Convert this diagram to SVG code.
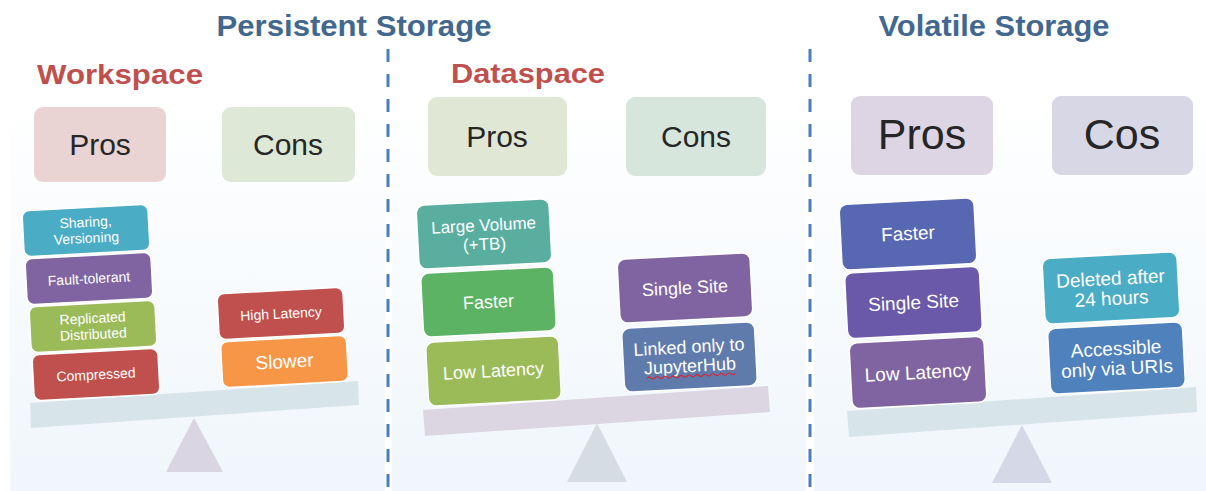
<svg xmlns="http://www.w3.org/2000/svg" width="1206" height="491" viewBox="0 0 1206 491">
<defs>
<linearGradient id="bg" x1="0" y1="0" x2="0" y2="1">
<stop offset="0" stop-color="#ffffff"/>
<stop offset="1" stop-color="#f0f6fb"/>
</linearGradient>
</defs>
<style>
.title{font-family:"Liberation Sans",Arial,sans-serif;font-weight:bold;font-size:29px;fill:#42688f}
.sub{font-family:"Liberation Sans",Arial,sans-serif;font-weight:bold;font-size:28px;fill:#c0504d}
.hdr{font-family:"Liberation Sans",Arial,sans-serif;fill:#262626;text-anchor:middle}
.bt{font-family:"Liberation Sans",Arial,sans-serif;fill:#ffffff;text-anchor:middle}
.box{stroke:#ffffff;stroke-width:1.5}
.div{stroke:#4a7cc1;stroke-width:3;stroke-dasharray:13 12;fill:none}
</style>
<rect x="0" y="0" width="1206" height="491" fill="#ffffff"/>
<rect x="10" y="92" width="375" height="399" fill="url(#bg)"/>
<rect x="392" y="92" width="414" height="399" fill="url(#bg)"/>
<rect x="814" y="92" width="392" height="399" fill="url(#bg)"/>

<g id="titles">
<text class="title" x="354" y="36" text-anchor="middle" textLength="275" lengthAdjust="spacingAndGlyphs">Persistent Storage</text>
<text class="title" x="994" y="36" text-anchor="middle" textLength="231" lengthAdjust="spacingAndGlyphs">Volatile Storage</text>
<text class="sub" x="37" y="84" textLength="166" lengthAdjust="spacingAndGlyphs">Workspace</text>
<text class="sub" x="451" y="83" textLength="154" lengthAdjust="spacingAndGlyphs">Dataspace</text>
</g>

<g id="connectors">
<line class="div" x1="388" y1="49" x2="388" y2="491"/>
<line class="div" x1="810" y1="49" x2="810" y2="491"/>
</g>

<!-- Panel 1: Workspace -->
<g id="ws-pros-header">
<rect x="34" y="107" width="132" height="75" rx="9" fill="#e9d3d3"/>
<text class="hdr" x="100" y="155" font-size="30">Pros</text>
</g>
<g id="ws-cons-header">
<rect x="222" y="107" width="133" height="75" rx="9" fill="#dee8d6"/>
<text class="hdr" x="288" y="155" font-size="30">Cons</text>
</g>
<g id="ws-scale">
<polygon points="30,403 358,381 359,405 31,428" fill="#d7e4ea"/>
<polygon points="194,418 223,472 166,472" fill="#d9d5e3"/>
</g>
<g id="ws-sharing" transform="rotate(-3 86 230.5)">
<rect class="box" x="23" y="207.5" width="126" height="46" rx="7" fill="#4bacc6"/>
<text class="bt" x="86" y="227" font-size="14">Sharing,</text>
<text class="bt" x="86" y="243" font-size="14">Versioning</text>
</g>
<g id="ws-fault" transform="rotate(-3 89 278.5)">
<rect class="box" x="26" y="255.5" width="126" height="46" rx="7" fill="#8064a2"/>
<text class="bt" x="89" y="283.5" font-size="14">Fault-tolerant</text>
</g>
<g id="ws-replicated" transform="rotate(-3 93 326.5)">
<rect class="box" x="30" y="303.5" width="126" height="46" rx="7" fill="#9bbb59"/>
<text class="bt" x="93" y="323" font-size="14">Replicated</text>
<text class="bt" x="93" y="339" font-size="14">Distributed</text>
</g>
<g id="ws-compressed" transform="rotate(-3 96 374.5)">
<rect class="box" x="33" y="351.5" width="126" height="46" rx="7" fill="#c0504d"/>
<text class="bt" x="96" y="379.5" font-size="14">Compressed</text>
</g>
<g id="ws-highlatency" transform="rotate(-3 281 313.5)">
<rect class="box" x="218" y="290.5" width="126" height="46" rx="7" fill="#c0504d"/>
<text class="bt" x="281" y="318.5" font-size="14">High Latency</text>
</g>
<g id="ws-slower" transform="rotate(-3 284.5 361.5)">
<rect class="box" x="221.5" y="338.5" width="126" height="46" rx="7" fill="#f79646"/>
<text class="bt" x="284.5" y="368" font-size="19">Slower</text>
</g>

<!-- Panel 2: Dataspace -->
<g id="ds-pros-header">
<rect x="428" y="97" width="139" height="79" rx="9" fill="#e0e8d5"/>
<text class="hdr" x="497" y="147" font-size="30">Pros</text>
</g>
<g id="ds-cons-header">
<rect x="626" y="97" width="140" height="79" rx="9" fill="#d7e6dd"/>
<text class="hdr" x="696" y="147" font-size="30">Cons</text>
</g>
<g id="ds-scale">
<polygon points="423,410 768,386 770,412 425,436" fill="#dcd6e2"/>
<polygon points="597,423 627,482 567,482" fill="#d5dde3"/>
</g>
<g id="ds-large" transform="rotate(-3 484 234)">
<rect class="box" x="417.5" y="202" width="133" height="64" rx="8" fill="#5aaea0"/>
<text class="bt" x="484" y="231" font-size="17">Large Volume</text>
<text class="bt" x="484" y="250" font-size="17">(+TB)</text>
</g>
<g id="ds-faster" transform="rotate(-3 488.5 302)">
<rect class="box" x="422" y="270" width="133" height="64" rx="8" fill="#5bb363"/>
<text class="bt" x="488.5" y="308" font-size="18">Faster</text>
</g>
<g id="ds-lowlatency" transform="rotate(-3 493.5 371)">
<rect class="box" x="427" y="339" width="133" height="64" rx="8" fill="#9bbb59"/>
<text class="bt" x="493.5" y="377" font-size="18">Low Latency</text>
</g>
<g id="ds-singlesite" transform="rotate(-3 685 288)">
<rect class="box" x="618.5" y="256" width="133" height="64" rx="8" fill="#8064a2"/>
<text class="bt" x="685" y="294" font-size="18">Single Site</text>
</g>
<g id="ds-linked" transform="rotate(-3 689.5 357)">
<rect class="box" x="623" y="325" width="133" height="64" rx="8" fill="#5f7bac"/>
<text class="bt" x="689.5" y="353" font-size="18">Linked only to</text>
<text class="bt" x="689.5" y="372" font-size="18">JupyterHub</text>
<path d="M646,376 q2,-2 4,0 t4,0 t4,0 t4,0 t4,0 t4,0 t4,0 t4,0 t4,0 t4,0 t4,0 t4,0 t4,0 t4,0 t4,0 t4,0 t4,0 t4,0 t4,0 t4,0 t4,0 t4,0" fill="none" stroke="#e0202a" stroke-width="1"/>
</g>

<!-- Panel 3: Volatile -->
<g id="vs-pros-header">
<rect x="851" y="96" width="142" height="79" rx="9" fill="#ddd5e3"/>
<text class="hdr" x="922" y="149" font-size="43">Pros</text>
</g>
<g id="vs-cos-header">
<rect x="1052" y="96" width="141" height="79" rx="9" fill="#d8d7e6"/>
<text class="hdr" x="1122" y="149" font-size="43">Cos</text>
</g>
<g id="vs-scale">
<polygon points="847,411 1196,387 1197,412 849,437" fill="#d7e4ea"/>
<polygon points="1022,425 1052,483 992,483" fill="#d5d8e6"/>
</g>
<g id="vs-faster" transform="rotate(-3 908 234)">
<rect class="box" x="840.5" y="201" width="135" height="66" rx="8" fill="#5767b2"/>
<text class="bt" x="908" y="240" font-size="19">Faster</text>
</g>
<g id="vs-singlesite" transform="rotate(-3 913.5 302.5)">
<rect class="box" x="846" y="269.5" width="135" height="66" rx="8" fill="#6a59a8"/>
<text class="bt" x="913.5" y="309" font-size="19">Single Site</text>
</g>
<g id="vs-lowlatency" transform="rotate(-3 918 372.5)">
<rect class="box" x="850.5" y="339.5" width="135" height="66" rx="8" fill="#8064a2"/>
<text class="bt" x="918" y="379" font-size="19">Low Latency</text>
</g>
<g id="vs-deleted" transform="rotate(-3 1111 288)">
<rect class="box" x="1043.5" y="255" width="135" height="66" rx="8" fill="#4bacc6"/>
<text class="bt" x="1111" y="285" font-size="19">Deleted after</text>
<text class="bt" x="1111" y="305" font-size="19">24 hours</text>
</g>
<g id="vs-accessible" transform="rotate(-3 1116.5 358)">
<rect class="box" x="1049" y="325" width="135" height="66" rx="8" fill="#4f81bd"/>
<text class="bt" x="1116.5" y="355" font-size="19">Accessible</text>
<text class="bt" x="1116.5" y="375" font-size="19">only via URIs</text>
</g>
</svg>
